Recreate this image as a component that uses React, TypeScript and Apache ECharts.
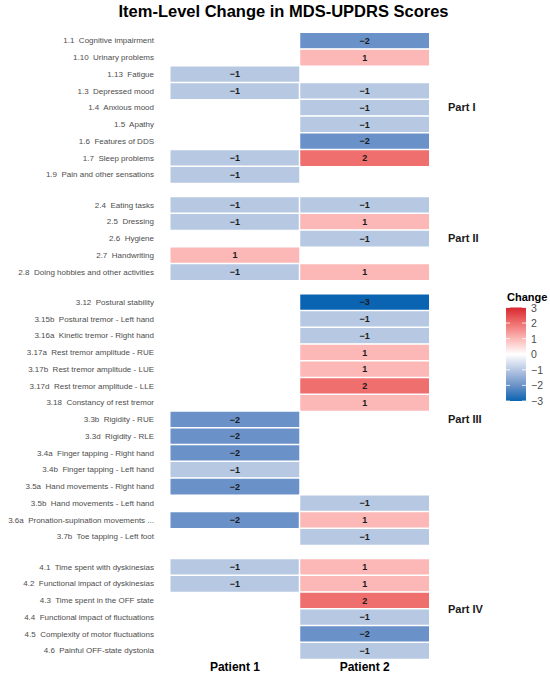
import React, { useEffect, useRef } from "react";
import * as echarts from "echarts";

const TITLE = "Item-Level Change in MDS-UPDRS Scores";
const patients = ["Patient 1", "Patient 2"];
const partNames = ["Part I", "Part II", "Part III", "Part IV"];

const part1Items = [
  "1.1  Cognitive impairment",
  "1.10  Urinary problems",
  "1.13  Fatigue",
  "1.3  Depressed mood",
  "1.4  Anxious mood",
  "1.5  Apathy",
  "1.6  Features of DDS",
  "1.7  Sleep problems",
  "1.9  Pain and other sensations",
];
const part1Patient1 = [null, null, -1, -1, null, null, null, -1, -1];
const part1Patient2 = [-2, 1, null, -1, -1, -1, -2, 2, null];

const part2Items = [
  "2.4  Eating tasks",
  "2.5  Dressing",
  "2.6  Hygiene",
  "2.7  Handwriting",
  "2.8  Doing hobbies and other activities",
];
const part2Patient1 = [-1, -1, null, 1, -1];
const part2Patient2 = [-1, 1, -1, null, 1];

const part3Items = [
  "3.12  Postural stability",
  "3.15b  Postural tremor - Left hand",
  "3.16a  Kinetic tremor - Right hand",
  "3.17a  Rest tremor amplitude - RUE",
  "3.17b  Rest tremor amplitude - LUE",
  "3.17d  Rest tremor amplitude - LLE",
  "3.18  Constancy of rest tremor",
  "3.3b  Rigidity - RUE",
  "3.3d  Rigidity - RLE",
  "3.4a  Finger tapping - Right hand",
  "3.4b  Finger tapping - Left hand",
  "3.5a  Hand movements - Right hand",
  "3.5b  Hand movements - Left hand",
  "3.6a  Pronation-supination movements ...",
  "3.7b  Toe tapping - Left foot",
];
const part3Patient1 = [null, null, null, null, null, null, null, -2, -2, -2, -1, -2, null, -2, null];
const part3Patient2 = [-3, -1, -1, 1, 1, 2, 1, null, null, null, null, null, -1, 1, -1];

const part4Items = [
  "4.1  Time spent with dyskinesias",
  "4.2  Functional impact of dyskinesias",
  "4.3  Time spent in the OFF state",
  "4.4  Functional impact of fluctuations",
  "4.5  Complexity of motor fluctuations",
  "4.6  Painful OFF-state dystonia",
];
const part4Patient1 = [-1, -1, null, null, null, null];
const part4Patient2 = [1, 1, 2, -1, -2, -1];

const legendTicks = [3, 2, 1, 0, -1, -2, -3];
// colours for values -3 .. 3
const scaleColors = ["#0b64b2", "#6a92c8", "#b7c8e3", "#ffffff", "#fbb8b6", "#ef6f6e", "#d7282f"];

const parts = [
  { items: part1Items, p1: part1Patient1, p2: part1Patient2 },
  { items: part2Items, p1: part2Patient1, p2: part2Patient2 },
  { items: part3Items, p1: part3Patient1, p2: part3Patient2 },
  { items: part4Items, p1: part4Patient1, p2: part4Patient2 },
];

const fmt = (v: number) => (v < 0 ? "\u2212" + Math.abs(v) : String(v));

export default function App() {
  const ref = useRef<HTMLDivElement>(null);
  useEffect(() => {
    if (!ref.current) return;
    const chart = echarts.init(ref.current, null, { renderer: "svg" });
    const ROW_H = 16.75;
    const GAP = 13.5;
    const LEFT = 170;
    const RIGHT = 120.5;
    let top = 32.5;
    const grids: any[] = [];
    const xAxes: any[] = [];
    const yAxes: any[] = [];
    const series: any[] = [];
    const graphics: any[] = [];
    parts.forEach((p, i) => {
      const h = p.items.length * ROW_H;
      grids.push({ left: LEFT, right: RIGHT, top, height: h });
      xAxes.push({
        gridIndex: i,
        type: "category",
        data: patients,
        position: "bottom",
        axisLine: { show: false },
        axisTick: { show: false },
        splitLine: { show: false },
        axisLabel: {
          show: i === parts.length - 1,
          fontSize: 12,
          fontWeight: "bold",
          color: "#000",
          fontFamily: "Liberation Sans",
          margin: 2,
        },
      });
      yAxes.push({
        gridIndex: i,
        type: "category",
        data: p.items,
        inverse: true,
        axisLine: { show: false },
        axisTick: { show: false },
        splitLine: { show: false },
        axisLabel: {
          fontSize: 8,
          color: "#4d4d4d",
          fontFamily: "Liberation Sans",
          margin: 16,
        },
      });
      const data: any[] = [];
      p.items.forEach((_, r) => {
        if (p.p1[r] !== null) data.push([0, r, p.p1[r]]);
        if (p.p2[r] !== null) data.push([1, r, p.p2[r]]);
      });
      series.push({
        type: "heatmap",
        xAxisIndex: i,
        yAxisIndex: i,
        data,
        itemStyle: { borderColor: "#ffffff", borderWidth: 1.5 },
        label: {
          show: true,
          formatter: (d: any) => fmt(d.value[2]),
          fontSize: 9,
          fontWeight: "bold",
          color: "#1a1a1a",
          fontFamily: "Liberation Sans",
        },
        emphasis: { disabled: true },
      });
      graphics.push({
        type: "text",
        left: 448,
        top: top + h / 2 - 6,
        style: {
          text: partNames[i],
          fontSize: 11,
          fontWeight: "bold",
          fill: "#1a1a1a",
          fontFamily: "Liberation Sans",
        },
      });
      top += h + GAP;
    });

    // colour bar legend
    const barX = 506;
    const barY = 307.5;
    const barW = 20;
    const barH = 93.5;
    const stops = scaleColors
      .slice()
      .reverse()
      .map((c, k) => ({ offset: k / (scaleColors.length - 1), color: c }));
    graphics.push({
      type: "rect",
      shape: { x: barX, y: barY, width: barW, height: barH },
      style: { fill: new echarts.graphic.LinearGradient(0, 0, 0, 1, stops) },
    });
    legendTicks.forEach((t) => {
      const y = barY + ((3 - t) / 6) * barH;
      graphics.push({
        type: "line",
        shape: { x1: barX, y1: y, x2: barX + 4, y2: y },
        style: { stroke: "#ffffff", lineWidth: 0.8 },
      });
      graphics.push({
        type: "line",
        shape: { x1: barX + barW - 4, y1: y, x2: barX + barW, y2: y },
        style: { stroke: "#ffffff", lineWidth: 0.8 },
      });
      graphics.push({
        type: "text",
        x: 531,
        y,
        style: {
          text: fmt(t),
          fontSize: 10.5,
          fill: "#4d4d4d",
          fontFamily: "Liberation Sans",
          verticalAlign: "middle",
          align: "left",
        },
      });
    });
    graphics.push({
      type: "text",
      x: 507,
      y: 297,
      style: {
        text: "Change",
        fontSize: 11,
        fontWeight: "bold",
        fill: "#000",
        fontFamily: "Liberation Sans",
        verticalAlign: "middle",
        align: "left",
      },
    });
    graphics.push({
      type: "text",
      x: 283.5,
      y: 11,
      style: {
        text: TITLE,
        fontSize: 16.5,
        fontWeight: "bold",
        fill: "#000",
        fontFamily: "Liberation Sans",
        verticalAlign: "middle",
        align: "center",
      },
    });

    chart.setOption({
      animation: false,
      backgroundColor: "#ffffff",
      grid: grids,
      xAxis: xAxes,
      yAxis: yAxes,
      visualMap: {
        type: "continuous",
        min: -3,
        max: 3,
        show: false,
        seriesIndex: [0, 1, 2, 3],
        inRange: { color: scaleColors },
      },
      series,
      graphic: graphics,
    });
    return () => chart.dispose();
  }, []);
  return <div ref={ref} style={{ width: 550, height: 675, position: "absolute", left: 0, top: 0 }} />;
}
